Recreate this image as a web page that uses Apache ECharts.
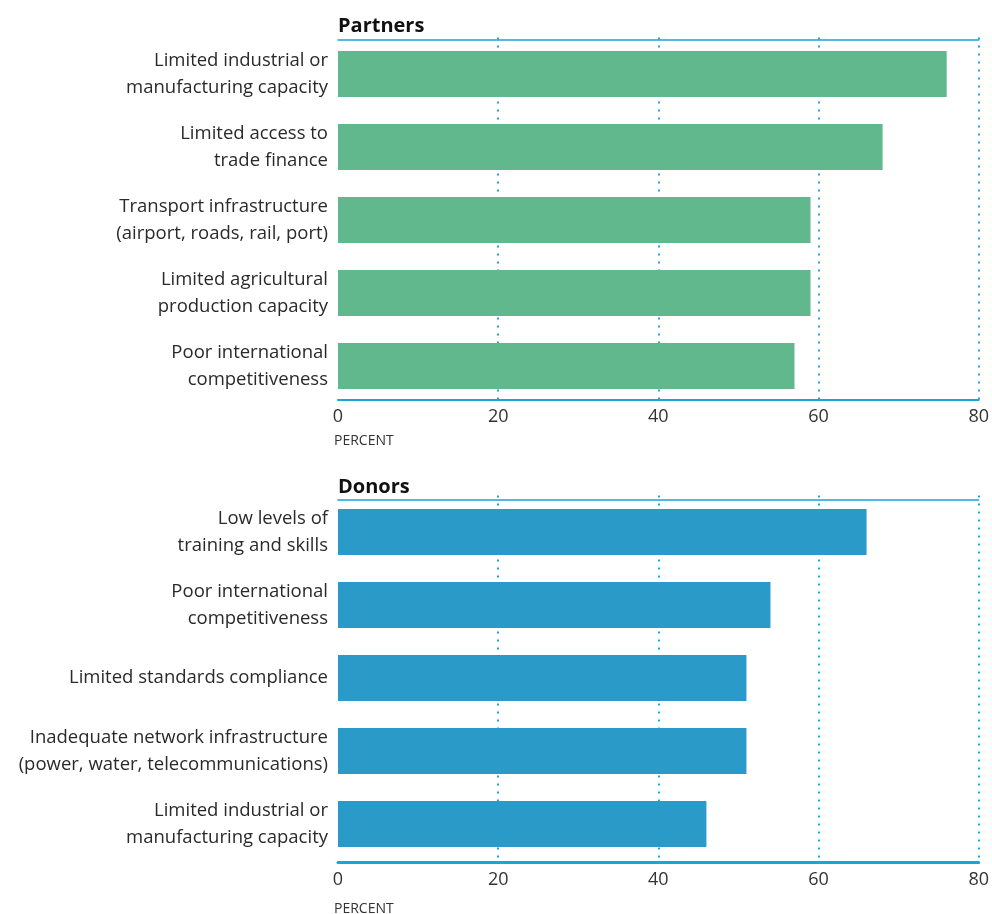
<!DOCTYPE html>
<html>
<head>
<meta charset="utf-8">
<script src="https://cdn.jsdelivr.net/npm/echarts@6/dist/echarts.min.js"></script>
<style>html,body{margin:0;padding:0;background:#fff;}#c{width:992px;height:914px;}</style>
</head>
<body>
<div id="c"></div>
<script>
var partnerCategories = [
  "Limited industrial or\nmanufacturing capacity",
  "Limited access to\ntrade finance",
  "Transport infrastructure\n(airport, roads, rail, port)",
  "Limited agricultural\nproduction capacity",
  "Poor international\ncompetitiveness"
];
var partnerValues = [76, 68, 59, 59, 57];

var donorCategories = [
  "Low levels of\ntraining and skills",
  "Poor international\ncompetitiveness",
  "Limited standards compliance",
  "Inadequate network infrastructure\n(power, water, telecommunications)",
  "Limited industrial or\nmanufacturing capacity"
];
var donorValues = [66, 54, 51, 51, 46];

var xTicks = [0, 20, 40, 60, 80];

var FONT = "'Open Sans', 'Noto Sans', sans-serif";
var LINE = '#1aa3de';

function valueAxis(grid, thick, off) {
  return {
    type: 'value', gridIndex: grid, min: xTicks[0], max: xTicks[xTicks.length - 1], interval: xTicks[1] - xTicks[0],
    position: 'bottom', offset: off,
    axisLine: { show: true, lineStyle: { color: LINE, width: thick } },
    axisTick: { show: false },
    axisLabel: { color: '#333', fontSize: 18, fontFamily: FONT, margin: 8 },
    splitLine: { show: true, showMinLine: false, showMaxLine: true, lineStyle: { color: LINE, width: 2, type: [2, 6] } }
  };
}
function topAxis(grid, off) {
  return {
    type: 'value', gridIndex: grid, min: xTicks[0], max: xTicks[xTicks.length - 1], interval: xTicks[1] - xTicks[0],
    position: 'top', offset: off,
    axisLine: { show: true, lineStyle: { color: LINE, width: 1.5 } },
    axisTick: { show: false }, axisLabel: { show: false }, splitLine: { show: false }
  };
}
function catAxis(grid, cats) {
  return {
    type: 'category', gridIndex: grid, data: cats, inverse: true,
    axisLine: { show: false }, axisTick: { show: false },
    axisLabel: { color: '#2a2a2a', fontSize: 18.5, lineHeight: 27, fontFamily: FONT, margin: 10, align: 'right', padding: [3, 0, 0, 0] }
  };
}

var chart = echarts.init(document.getElementById('c'), null, { renderer: 'canvas' });
chart.setOption({
  animation: false,
  backgroundColor: '#fff',
  title: [
    { text: 'Partners', left: 333, top: 11, textStyle: { fontSize: 20, fontWeight: 'bold', color: '#111', fontFamily: FONT } },
    { text: 'Donors', left: 333, top: 472, textStyle: { fontSize: 20, fontWeight: 'bold', color: '#111', fontFamily: FONT } },
    { text: 'PERCENT', left: 329, top: 429, textStyle: { fontSize: 14, fontWeight: 'normal', color: '#333', fontFamily: FONT } },
    { text: 'PERCENT', left: 329, top: 897, textStyle: { fontSize: 14, fontWeight: 'normal', color: '#333', fontFamily: FONT } }
  ],
  grid: [
    { left: 338, right: 12, top: 37.5, height: 365 },
    { left: 338, right: 12, top: 495.5, height: 365 }
  ],
  xAxis: [valueAxis(0, 2, -3), topAxis(0, -2.5), valueAxis(1, 3, 2), topAxis(1, -4.5)],
  yAxis: [catAxis(0, partnerCategories), catAxis(1, donorCategories)],
  series: [
    { type: 'bar', xAxisIndex: 0, yAxisIndex: 0, data: partnerValues, barWidth: 46, itemStyle: { color: '#62b88d' } },
    { type: 'bar', xAxisIndex: 2, yAxisIndex: 1, data: donorValues, barWidth: 46, itemStyle: { color: '#2a9bc8' } }
  ]
});
</script>
</body>
</html>
